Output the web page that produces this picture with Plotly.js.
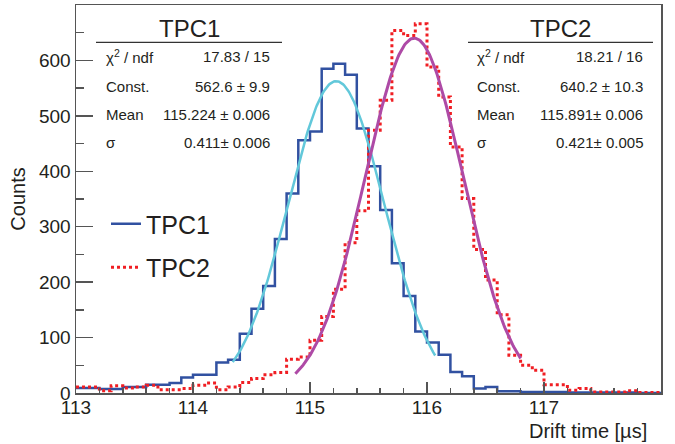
<!DOCTYPE html>
<html>
<head>
<meta charset="utf-8">
<script src="https://cdn.plot.ly/plotly-3.0.1.min.js"></script>
<style>html,body{margin:0;padding:0;background:#fff;}#chart{width:675px;height:444px;}</style>
</head>
<body>
<div id="chart"></div>
<script>
// ---- Data ----
const binEdges = [113.0,113.1,113.2,113.3,113.4,113.5,113.6,113.7,113.8,113.9,
  114.0,114.1,114.2,114.3,114.4,114.5,114.6,114.7,114.8,114.9,
  115.0,115.1,115.2,115.3,115.4,115.5,115.6,115.7,115.8,115.9,
  116.0,116.1,116.2,116.3,116.4,116.5,116.6,116.7,116.8,116.9,
  117.0,117.1,117.2,117.3,117.4,117.5,117.6,117.7,117.8,117.9,118.0];
const countsTPC1 = [9,9,7,7,11,11,15,15,18,28,
  33,33,55,60,107,152,193,278,360,456,
  472,585,594,574,477,409,330,234,175,111,
  91,69,38,30,8,11,3,3,2,2,
  2,2,1,1,1,1,1,1,0,0];
const countsTPC2 = [11,11,4,13,9,11,14,6,6,8,
  14,18,6,11,19,26,33,37,61,65,
  95,138,187,271,329,474,528,654,645,666,
  588,534,444,351,259,204,141,68,50,41,
  15,15,5,8,2,2,2,4,1,1];
const seriesNames = ['TPC1','TPC2'];
// Gaussian fit parameters (from the stat boxes) and fit ranges
const fitConst = [562.6, 640.2];
const fitMean  = [115.224, 115.891];
const fitSigma = [0.411, 0.421];
const fitRange = [[114.34, 116.07],[114.875, 116.80]];
const statLabels = ['χ<sup>2</sup> / ndf','Const.','Mean','σ'];
const statValues1 = ['17.83 / 15','562.6 ± 9.9','115.224 ± 0.006','0.411± 0.006'];
const statValues2 = ['18.21 / 16','640.2 ± 10.3','115.891± 0.006','0.421± 0.005'];
const xTitle = 'Drift time [µs]';
const yTitle = 'Counts';

// ---- Styling ----
const FONT = 'Liberation Sans, Arial, Helvetica, sans-serif';
const TXT = '#231f20';
const AX = '#555555';
const cBlue = '#3151a1', cCyan = '#62c8da', cRed = '#f01e23', cMag = '#ae4aa6';

function histXY(counts){
  return {x: binEdges.slice(), y: counts.concat([counts[counts.length-1]])};
}
function gaussCurve(i){
  const xs=[], ys=[]; const n=200;
  const a=fitRange[i][0], b=fitRange[i][1];
  for(let k=0;k<=n;k++){
    const x=a+(b-a)*k/n;
    xs.push(x);
    ys.push(fitConst[i]*Math.exp(-0.5*Math.pow((x-fitMean[i])/fitSigma[i],2)));
  }
  return {x:xs,y:ys};
}
const h1=histXY(countsTPC1), h2=histXY(countsTPC2);
const g1=gaussCurve(0), g2=gaussCurve(1);

const traces = [
  {x:h1.x, y:h1.y, type:'scatter', mode:'lines', name:seriesNames[0], legendgroup:'a',
   line:{shape:'hv', color:cBlue, width:2.5}},
  {x:h2.x, y:h2.y, type:'scatter', mode:'lines', name:seriesNames[1], legendgroup:'b',
   line:{shape:'hv', color:cRed, width:3, dash:'3px,3px'}},
  {x:g1.x, y:g1.y, type:'scatter', mode:'lines', showlegend:false,
   line:{color:cCyan, width:2.5}},
  {x:g2.x, y:g2.y, type:'scatter', mode:'lines', showlegend:false,
   line:{color:cMag, width:3}}
];

// pixel -> paper helpers (layout positioning only)
const L=76, R=661, T=5, B=393;
const px=v=>(v-L)/(R-L), py=v=>(B-v)/(B-T);

const annotations=[];
function statBox(title, values, titleCx, labelX, valueX){
  annotations.push({text:title, xref:'paper', yref:'paper', x:px(titleCx), y:py(28),
    xanchor:'center', yanchor:'middle', showarrow:false, font:{family:FONT,size:24,color:TXT}});
  const rows=[57,86,114.5,143];
  statLabels.forEach((lab,i)=>{
    annotations.push({text:lab, xref:'paper', yref:'paper', x:px(labelX), y:py(rows[i]),
      xanchor:'left', yanchor:'middle', showarrow:false, font:{family:FONT,size:15,color:TXT}});
    annotations.push({text:values[i], xref:'paper', yref:'paper', x:px(valueX), y:py(rows[i]),
      xanchor:'right', yanchor:'middle', showarrow:false, font:{family:FONT,size:15,color:TXT}});
  });
}
statBox(seriesNames[0], statValues1, 189, 104, 272);
statBox(seriesNames[1], statValues2, 560, 475, 645);
annotations.push({text:xTitle, xref:'paper', yref:'paper', x:px(649), y:py(431),
  xanchor:'right', yanchor:'middle', showarrow:false, font:{family:FONT,size:20,color:TXT}});

const shapes=[
  {type:'line', xref:'paper', yref:'paper', x0:px(96), x1:px(282), y0:py(42.3), y1:py(42.3), line:{color:'#333',width:1.2}},
  {type:'line', xref:'paper', yref:'paper', x0:px(468), x1:px(653), y0:py(42.3), y1:py(42.3), line:{color:'#333',width:1.2}}
];

const layout = {
  width:675, height:444,
  margin:{l:L, r:675-R, t:T, b:444-B, pad:0},
  paper_bgcolor:'#fff', plot_bgcolor:'#fff',
  font:{family:FONT, color:TXT},
  showlegend:true,
  legend:{x:px(106), y:py(201), xanchor:'left', yanchor:'top', bgcolor:'rgba(0,0,0,0)',
    font:{family:FONT,size:25,color:TXT}, traceorder:'grouped', tracegroupgap:8},
  xaxis:{range:[113,118], tick0:113, dtick:1, ticks:'inside', ticklen:11, tickwidth:1.5, tickcolor:AX,
    showline:true, linecolor:AX, linewidth:1.5, mirror:true, showgrid:false, zeroline:false,
    ticklabelstandoff:-3,
    tickfont:{family:FONT,size:19,color:TXT},
    minor:{dtick:0.2, tick0:113, ticks:'inside', ticklen:5, tickwidth:1.5, tickcolor:AX, showgrid:false}},
  yaxis:{range:[0,700], tick0:0, dtick:100, ticks:'inside', ticklen:17, tickwidth:1.5, tickcolor:AX,
    showline:true, linecolor:AX, linewidth:1.5, mirror:true, showgrid:false, zeroline:false,
    tickfont:{family:FONT,size:19,color:TXT},
    title:{text:yTitle, font:{family:FONT,size:20,color:TXT}, standoff:8},
    minor:{dtick:50, tick0:0, ticks:'inside', ticklen:8, tickwidth:1.5, tickcolor:AX, showgrid:false}},
  annotations:annotations,
  shapes:shapes
};
Plotly.newPlot('chart', traces, layout, {displayModeBar:false, staticPlot:true});
</script>
</body>
</html>
